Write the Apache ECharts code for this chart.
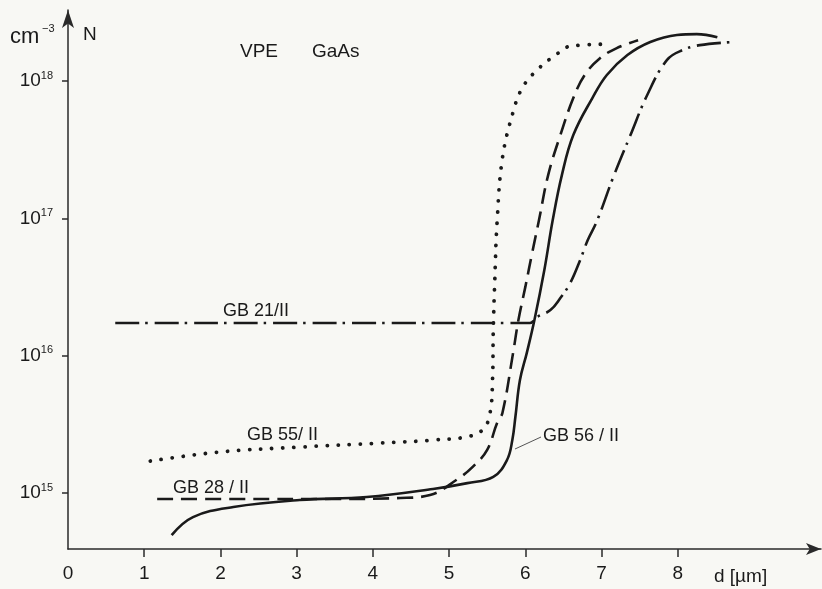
<!DOCTYPE html>
<html>
<head>
<meta charset="utf-8">
<script src="https://cdn.jsdelivr.net/npm/echarts@6/dist/echarts.min.js"></script>
<style>
html,body{margin:0;padding:0;background:#f8f8f4;}
#chart{width:822px;height:589px;}
</style>
</head>
<body>
<div id="chart"></div>
<script>
// x tick labels (d in µm)
const xTickLabels = [0, 1, 2, 3, 4, 5, 6, 7, 8];
const xTickMarks = [1, 2, 3, 4, 5, 6, 7, 8];
// y tick values (N in cm^-3)
const yTickValues = [1e15, 1e16, 1e17, 1e18];

// GB 56/II (solid)
const gb56D = [1.36,1.64,2.17,3.04,3.92,4.79,5.24,5.58,5.76,5.83,5.87,5.93,6.02,6.12,6.25,6.36,6.48,6.63,6.88,7.07,7.34,7.64,7.99,8.25,8.52];
const gb56N = [4.94e14,6.68e14,7.91e14,8.89e14,9.35e14,1.07e15,1.18e15,1.31e15,1.74e15,2.43e15,3.58e15,6.65e15,1.05e16,1.82e16,4.21e16,9.73e16,2.07e17,4.05e17,7.53e17,1.11e18,1.55e18,1.93e18,2.17e18,2.20e18,2.09e18];

// GB 28/II (dashed)
const gb28D = [1.17,2.39,3.44,4.36,4.75,5.10,5.31,5.50,5.63,5.70,5.84,5.91,6.00,6.09,6.18,6.30,6.46,6.63,6.78,6.98,7.20,7.48];
const gb28N = [9.04e14,9.04e14,9.04e14,9.20e14,9.66e14,1.25e15,1.55e15,2.06e15,3.24e15,3.83e15,1.05e16,1.82e16,3.16e16,5.60e16,9.73e16,2.07e17,4.05e17,7.53e17,1.11e18,1.47e18,1.74e18,1.99e18];

// GB 55/II (dotted)
const gb55D = [1.08,1.99,3.04,4.09,4.79,5.28,5.46,5.54,5.57,5.58,5.60,5.63,5.70,5.84,5.96,6.15,6.43,6.59,7.07];
const gb55N = [1.71e15,1.99e15,2.16e15,2.31e15,2.43e15,2.60e15,2.97e15,3.89e15,6.65e15,1.54e16,3.56e16,9.42e16,2.75e17,5.96e17,8.91e17,1.20e18,1.60e18,1.80e18,1.86e18];

// GB 21/II (dash-dot)
const gb21D = [0.62,6.06,6.15,6.33,6.46,6.59,6.72,6.82,6.94,7.15,7.38,7.60,7.86,8.07,8.29,8.73];
const gb21N = [1.73e16,1.73e16,1.91e16,2.15e16,2.63e16,3.39e16,4.98e16,6.97e16,9.57e16,1.97e17,4.05e17,7.93e17,1.43e18,1.69e18,1.83e18,1.93e18];

const ink = '#1a1a1a';
const font = "'Liberation Sans', Arial, sans-serif";

function pairs(xs, ys) { return xs.map((x, i) => [x, ys[i]]); }

function curve(name, xs, ys, lineStyle) {
  return {
    name: name, type: 'line', data: pairs(xs, ys),
    showSymbol: false, smooth: 0.4,
    lineStyle: Object.assign({ color: ink, width: 2.6 }, lineStyle),
    silent: true
  };
}

function txt(text, x, y, size, extra) {
  return {
    type: 'text', x: x, y: y, silent: true,
    style: Object.assign({ text: text, font: size + 'px ' + font, fill: ink, verticalAlign: 'middle', align: 'left' }, extra || {})
  };
}

const chart = echarts.init(document.getElementById('chart'), null, { renderer: 'canvas' });
chart.setOption({
  animation: false,
  backgroundColor: '#f8f8f4',
  grid: { left: 68, right: 1, top: 10, bottom: 40, containLabel: false },
  xAxis: {
    type: 'value', min: 0, max: 9.88, interval: 1,
    axisLine: { show: true, lineStyle: { color: '#2a2a2a', width: 1.5 }, symbol: ['none', 'arrow'], symbolSize: [9, 15] },
    axisTick: { show: true, customValues: xTickMarks, length: 8, lineStyle: { color: '#2a2a2a', width: 1.5 } },
    axisLabel: { customValues: xTickLabels, margin: 15, fontSize: 19, fontFamily: font, color: ink },
    splitLine: { show: false }
  },
  yAxis: {
    type: 'log', logBase: 10, min: 3.91e14, max: 3.30e18,
    axisLine: { show: true, lineStyle: { color: '#2a2a2a', width: 1.5 }, symbol: ['none', 'arrow'], symbolSize: [9, 18] },
    axisTick: { show: true, customValues: yTickValues, length: 6, lineStyle: { color: '#2a2a2a', width: 1.5 } },
    axisLabel: {
      customValues: yTickValues, margin: 15, color: ink, fontFamily: font,
      formatter: function (v) { return '{b|10}{s|' + Math.round(Math.log10(v)) + '}'; },
      rich: {
        b: { fontSize: 19, fontFamily: font, color: ink },
        s: { fontSize: 11, fontFamily: font, color: ink, padding: [0, 0, 11, 0] }
      }
    },
    splitLine: { show: false }
  },
  series: [
    curve('GB 56/II', gb56D, gb56N, { type: 'solid' }),
    curve('GB 28/II', gb28D, gb28N, { type: [16, 8] }),
    curve('GB 55/II', gb55D, gb55N, { type: [0.1, 11], cap: 'round', width: 3.8 }),
    curve('GB 21/II', gb21D, gb21N, { type: [24, 6, 2.5, 7] })
  ],
  graphic: [
    txt('cm', 10, 37, 22),
    txt('−3', 42, 29, 11),
    txt('N', 83, 35, 19),
    txt('VPE', 240, 52, 19),
    txt('GaAs', 312, 52, 19),
    txt('GB 21/II', 223, 311, 18),
    txt('GB 55/ II', 247, 435, 18),
    txt('GB 28 / II', 173, 488, 18),
    txt('GB 56 / II', 543, 436, 18),
    txt('d [µm]', 714, 577, 19),
    { type: 'line', silent: true, shape: { x1: 515, y1: 449, x2: 541, y2: 437 }, style: { stroke: '#555', lineWidth: 1 } }
  ]
});
</script>
</body>
</html>
